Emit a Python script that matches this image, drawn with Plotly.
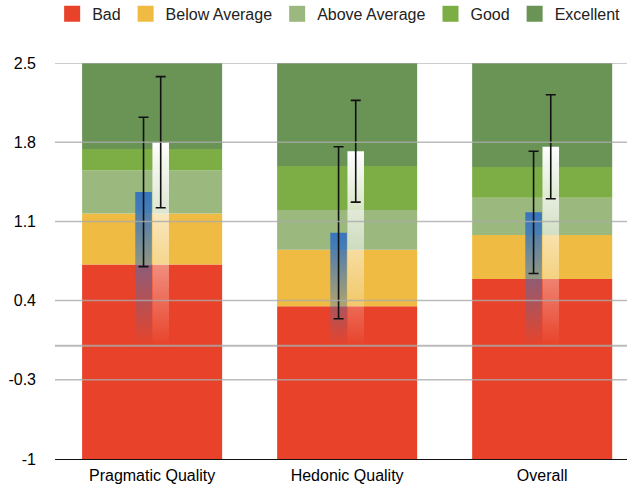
import plotly.graph_objects as go

# ---------------- data ----------------
categories = ["Pragmatic Quality", "Hedonic Quality", "Overall"]

band_names = ["Bad", "Below Average", "Above Average", "Good", "Excellent"]
band_colors = ["#E8432A", "#EFBB43", "#9BB97E", "#7DAD45", "#6A9456"]
axis_min = -1.0
# upper bound of each benchmark band, per category
bad_upper = [0.72, 0.35, 0.59]
below_avg_upper = [1.17, 0.85, 0.98]
above_avg_upper = [1.55, 1.20, 1.31]
good_upper = [1.74, 1.59, 1.58]
excellent_upper = [2.5, 2.5, 2.5]

# measured scale means with confidence intervals
mean_a = [1.36, 1.00, 1.18]
ci_a = [0.66, 0.76, 0.54]
mean_b = [1.80, 1.72, 1.76]
ci_b = [0.58, 0.45, 0.46]

y_ticks = [-1, -0.3, 0.4, 1.1, 1.8, 2.5]
y_ticktext = ["-1", "-0.3", "0.4", "1.1", "1.8", "2.5"]

# ---------------- styling ----------------
FONT = "Liberation Sans, Arial, Helvetica, sans-serif"
band_width = 0.718
small_width = 0.085
small_gap = 0.003
color_a = "56,116,190"
color_b = "255,255,255"

x_pos = list(range(len(categories)))
uppers = [bad_upper, below_avg_upper, above_avg_upper, good_upper, excellent_upper]

fig = go.Figure()

lower = [axis_min] * len(categories)
for name, col, up in zip(band_names, band_colors, uppers):
    fig.add_trace(go.Bar(
        x=x_pos, y=[u - l for u, l in zip(up, lower)], base=lower,
        width=band_width, name=name, legendgroup=name, showlegend=False,
        marker=dict(color=col, line=dict(width=0)), hoverinfo="skip",
    ))
    lower = up

# legend entries (square swatches)
for name, col in zip(band_names, band_colors):
    fig.add_trace(go.Scatter(
        x=[None], y=[None], mode="markers", name=name, legendgroup=name,
        marker=dict(symbol="square", size=16, color=col, line=dict(width=0)),
    ))


def grad_rect(xc, side, val, rgb):
    if side < 0:
        x0, x1 = xc - small_gap / 2 - small_width, xc - small_gap / 2
    else:
        x0, x1 = xc + small_gap / 2, xc + small_gap / 2 + small_width
    return go.Scatter(
        x=[x0, x1, x1, x0, x0], y=[0, 0, val, val, 0],
        mode="lines", line=dict(width=0), fill="toself",
        fillgradient=dict(type="vertical", start=0, stop=val,
                          colorscale=[[0, f"rgba({rgb},0)"], [1, f"rgba({rgb},1)"]]),
        showlegend=False, hoverinfo="skip",
    )


for i in x_pos:
    fig.add_trace(grad_rect(i, -1, mean_a[i], color_a))
    fig.add_trace(grad_rect(i, 1, mean_b[i], color_b))

err_style = dict(type="data", symmetric=True, color="#111111", thickness=1.6, width=5)
fig.add_trace(go.Scatter(
    x=[i - small_gap / 2 - small_width / 2 for i in x_pos], y=mean_a, mode="markers",
    marker=dict(size=1, color="rgba(0,0,0,0)"), error_y=dict(array=ci_a, **err_style),
    showlegend=False, hoverinfo="skip"))
fig.add_trace(go.Scatter(
    x=[i + small_gap / 2 + small_width / 2 for i in x_pos], y=mean_b, mode="markers",
    marker=dict(size=1, color="rgba(0,0,0,0)"), error_y=dict(array=ci_b, **err_style),
    showlegend=False, hoverinfo="skip"))

# grid lines drawn above the colored bands
for t in [v for v in y_ticks if v != axis_min] + [0]:
    fig.add_shape(type="line", xref="paper", x0=0, x1=1, yref="y", y0=t, y1=t,
                  line=dict(color="rgba(170,170,170,0.8)", width=1.5 if t else 2),
                  layer="above")

fig.update_layout(
    width=627, height=487,
    margin=dict(l=55, r=0, t=63, b=28, autoexpand=False),
    paper_bgcolor="white", plot_bgcolor="white",
    barmode="overlay",
    font=dict(family=FONT, size=16, color="#000000"),
    legend=dict(orientation="h", x=-0.005, xanchor="left", y=1.124, yanchor="middle",
                font=dict(size=16, color="#222222"), traceorder="normal",
                bgcolor="rgba(0,0,0,0)", itemclick=False, itemdoubleclick=False),
    xaxis=dict(range=[-0.498, 2.435], tickvals=x_pos, ticktext=categories,
               showgrid=False, zeroline=False, showline=True, linecolor="#111111",
               linewidth=1.2, ticks="", ticklabelstandoff=2, fixedrange=True),
    yaxis=dict(range=[axis_min, 2.5], tickvals=y_ticks, ticktext=y_ticktext,
               showgrid=False, zeroline=False, showline=False, ticks="",
               ticklabelstandoff=18, fixedrange=True),
    showlegend=True,
)

fig.write_html("out.html", config={"displayModeBar": False},
               post_script="document.body.style.margin='0';document.body.style.padding='0';")
